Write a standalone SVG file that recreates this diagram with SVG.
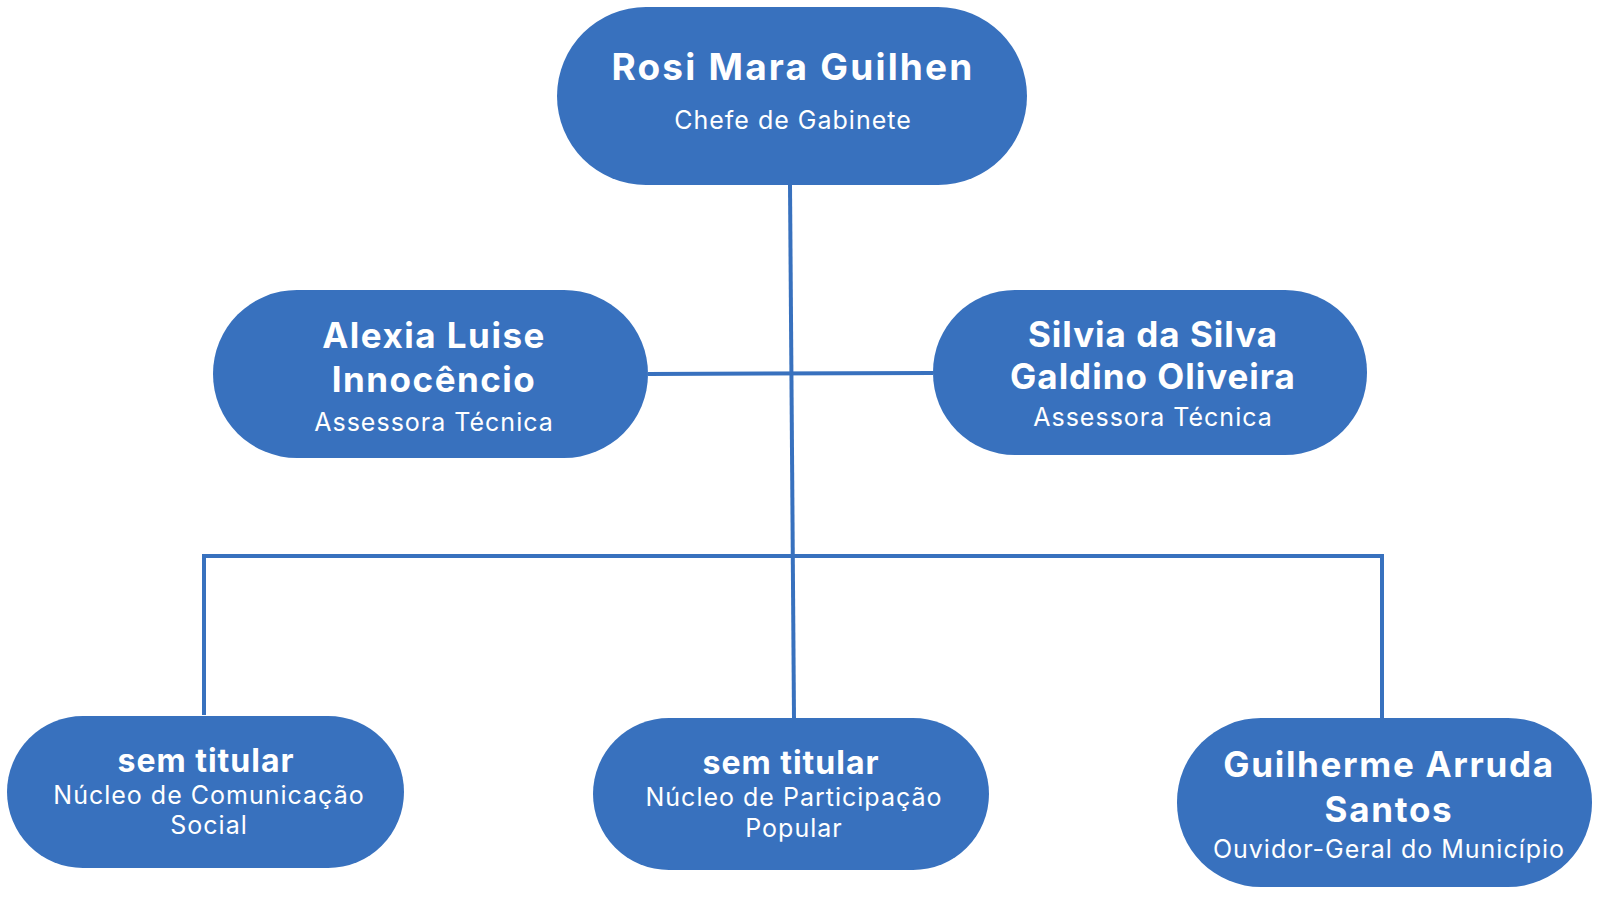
<svg xmlns="http://www.w3.org/2000/svg" width="1600" height="900" viewBox="0 0 1600 900">
<style>
.node{fill:#3871be}
.t{font-family:Inter,"Liberation Sans",sans-serif;font-weight:700;fill:#fff;text-anchor:middle;font-size:35px;letter-spacing:1.5px}
.s{font-family:Inter,"Liberation Sans",sans-serif;font-weight:400;fill:#fff;text-anchor:middle;font-size:25px;letter-spacing:1px}
.c{stroke:#3871be;stroke-width:4;fill:none}
</style>
<rect width="1600" height="900" fill="#fff"/>
<g id="connectors">
<line class="c" x1="790" y1="185" x2="794" y2="718"/>
<line class="c" x1="648" y1="374" x2="933" y2="373"/>
<polyline class="c" points="204,715 204,556 1382,556 1382,718"/>
</g>
<g id="n-rosi">
<rect class="node" x="557" y="7" width="470" height="178" rx="89"/>
<text class="t" x="793" y="80" style="font-size:37px;letter-spacing:2.2px">Rosi Mara Guilhen</text>
<text class="s" x="793" y="129">Chefe de Gabinete</text>
</g>
<g id="n-alexia">
<rect class="node" x="213" y="290" width="435" height="168" rx="84"/>
<text class="t" x="434" y="348">Alexia Luise</text>
<text class="t" x="434" y="392">Innocêncio</text>
<text class="s" x="434" y="431">Assessora Técnica</text>
</g>
<g id="n-silvia">
<rect class="node" x="933" y="290" width="434" height="165" rx="82"/>
<text class="t" x="1153" y="347" style="letter-spacing:1px">Silvia da Silva</text>
<text class="t" x="1153" y="389" style="letter-spacing:1px">Galdino Oliveira</text>
<text class="s" x="1153" y="426">Assessora Técnica</text>
</g>
<g id="n-com">
<rect class="node" x="7" y="716" width="397" height="152" rx="76"/>
<text class="t" x="206" y="772" style="font-size:32px;letter-spacing:1px">sem titular</text>
<text class="s" x="209" y="804">Núcleo de Comunicação</text>
<text class="s" x="209" y="834">Social</text>
</g>
<g id="n-part">
<rect class="node" x="593" y="718" width="396" height="152" rx="76"/>
<text class="t" x="791" y="774" style="font-size:32px;letter-spacing:1px">sem titular</text>
<text class="s" x="794" y="806">Núcleo de Participação</text>
<text class="s" x="794" y="837">Popular</text>
</g>
<g id="n-guilherme">
<rect class="node" x="1177" y="718" width="415" height="169" rx="84"/>
<text class="t" x="1389" y="777" style="letter-spacing:1.7px">Guilherme Arruda</text>
<text class="t" x="1389" y="822" style="letter-spacing:1.7px">Santos</text>
<text class="s" x="1389" y="858">Ouvidor-Geral do Município</text>
</g>
</svg>
